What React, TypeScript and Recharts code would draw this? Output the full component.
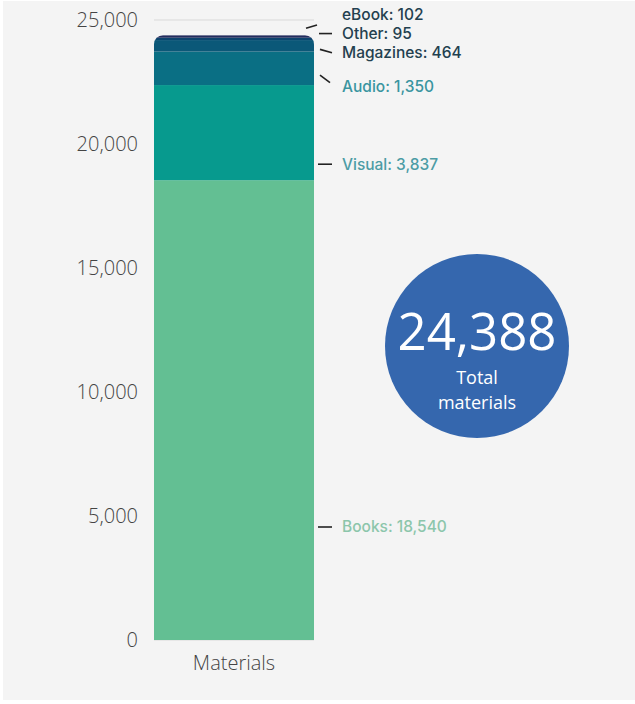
import {Bar, BarChart, CartesianGrid, XAxis, YAxis} from 'recharts';

const categories = ['Materials'];
const seriesNames = ['Books', 'Visual', 'Audio', 'Magazines', 'Other', 'eBook'];
const seriesValues = [18540, 3837, 1350, 464, 95, 102];
const yTicks = [0, 5000, 10000, 15000, 20000, 25000];

const colors = ['#63bf93', '#079a8e', '#0a6f84', '#0b5878', '#0c436d', '#232c5e'];
const labelColors = ['#8cc6ab', '#4c9ca5', '#3a95a0', '#23404f', '#23404f', '#23404f'];
// text offset from segment bottom, leader line relative to (bar right, text y)
const labelLayout = [
    {dy: -113, line: [4, 0, 18, 0]},
    {dy: -16, line: [4, 0, 18, 0]},
    {dy: 1.5, line: [6, -11.5, 16, -4]},
    {dy: 1.5, line: [6, -3.7, 18, -0.3]},
    {dy: -6.3, line: [5, -0.2, 18, -0.2]},
    {dy: -23.2, line: [-8, 13.8, 3, 10.5]},
];

const data = categories.map((name) => {
    const row: Record<string, string | number> = {name};
    seriesNames.forEach((s, i) => {
        row[s] = seriesValues[i];
    });
    return row;
});

const total = seriesValues.reduce((a, b) => a + b, 0);
const fmt = (v: number) => v.toLocaleString('en-US');

const makeShape = (i: number) => (props: any) => {
    const {x, y, width, height, fill} = props;
    if (!height) return <g/>;
    const k = height / seriesValues[i];
    const above = seriesValues.slice(i + 1).reduce((a, b) => a + b, 0);
    const topY = y - above * k;
    const id = `clip-seg-${i}`;
    return (
        <g>
            <defs>
                <clipPath id={id}>
                    <rect x={x} y={topY} width={width} height={y + height + 20 - topY} rx={9} ry={9}/>
                </clipPath>
            </defs>
            <rect x={x} y={y} width={width} height={height} fill={fill} clipPath={`url(#${id})`}/>
        </g>
    );
};

const makeLabel = (i: number) => (props: any) => {
    const {x, y, width, height} = props;
    const right = Number(x) + Number(width);
    const ty = Number(y) + Number(height) + labelLayout[i].dy;
    const [x1, y1, x2, y2] = labelLayout[i].line;
    return (
        <g>
            <line x1={right + x1} y1={ty + y1} x2={right + x2} y2={ty + y2} stroke="#222" strokeWidth={1.6}/>
            <text x={right + 28} y={ty} dy="0.35em" fill={labelColors[i]}
                  style={{fontFamily: 'Inter', fontSize: 15.5, fontWeight: 500}}>
                {`${seriesNames[i]}: ${fmt(seriesValues[i])}`}
            </text>
        </g>
    );
};

const App = () => {
    return (
        <div style={{position: 'absolute', left: 0, top: 0, width: 635, height: 704, background: '#fff'}}>
            <div style={{position: 'absolute', left: 3, top: 1, width: 632, height: 699, background: '#f4f4f4'}}/>
            <div style={{position: 'absolute', left: 0, top: 0}}>
                <BarChart width={635} height={704} data={data} barCategoryGap={0}
                          margin={{top: 20, right: 321, bottom: 34, left: 0}}>
                    <CartesianGrid vertical={false} stroke="#d9d9d9"/>
                    <XAxis dataKey="name" height={30} axisLine={false} tickLine={false} tickSize={0} tickMargin={16}
                           tick={{fill: '#444', fontSize: 20, fontFamily: 'Open Sans', fontWeight: 300}}/>
                    <YAxis width={154} domain={[0, 25000]} ticks={yTicks} axisLine={false} tickLine={false}
                           tickSize={0} tickMargin={16} tickFormatter={fmt}
                           tick={{fill: '#444', fontSize: 20, fontFamily: 'Open Sans', fontWeight: 300}}/>
                    {seriesNames.map((s, i) => (
                        <Bar key={s} dataKey={s} stackId="a" fill={colors[i]} isAnimationActive={false}
                             shape={makeShape(i)} label={makeLabel(i)}/>
                    ))}
                </BarChart>
            </div>
            <svg width={635} height={704} style={{position: 'absolute', left: 0, top: 0, pointerEvents: 'none'}}>
                <circle cx={477} cy={346} r={92} fill="#3567ae"/>
                <text x={477} y={350} textAnchor="middle" fill="#fff"
                      style={{fontFamily: 'Open Sans', fontSize: 51}}>{fmt(total)}</text>
                <text x={477} y={384} textAnchor="middle" fill="#fff"
                      style={{fontFamily: 'Open Sans', fontSize: 18}}>Total</text>
                <text x={477} y={409} textAnchor="middle" fill="#fff"
                      style={{fontFamily: 'Open Sans', fontSize: 18}}>materials</text>
            </svg>
        </div>
    );
};

export default App;
